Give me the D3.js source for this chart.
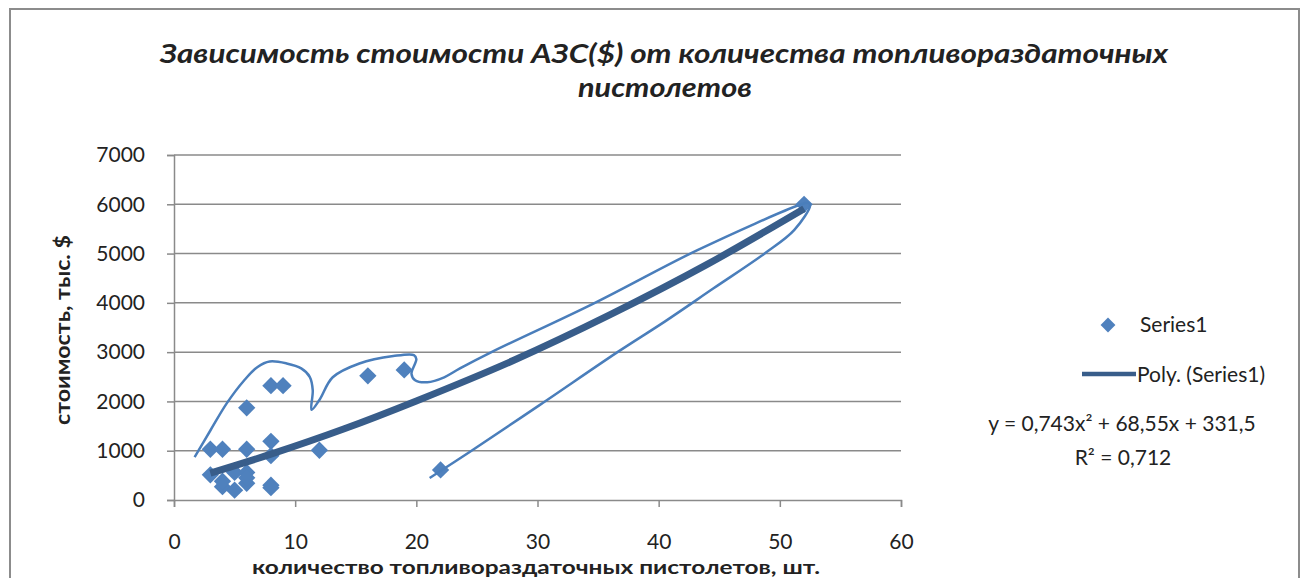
<!DOCTYPE html>
<html>
<head>
<meta charset="utf-8">
<script src="https://cdn.jsdelivr.net/npm/d3@7/dist/d3.min.js"></script>
<style>
  body { margin: 0; background: #fff; }
  text { font-family: Lato, "Liberation Sans", sans-serif; fill: #222; }
</style>
</head>
<body>
<div id="root"></div>
<script>
// chart data
let pistols = [3, 4, 6, 8, 8, 12, 3, 4, 4, 5, 5, 6, 6, 6, 8, 8, 6, 8, 9, 16, 19, 22, 52];
let cost = [1030, 1030, 1030, 1190, 900, 1010, 510, 270, 380, 200, 560, 560, 340, 450, 300, 250, 1870, 2320, 2320, 2520, 2640, 610, 6000];

// polynomial trend line
let trendX = [3, 8, 14, 20, 28, 36, 44, 52];
let trendY = [545, 930, 1440, 2010, 2830, 3760, 4780, 5910];

// hand drawn outline (data units)
let outlineX = [1.7, 3.0, 4.35, 5.8, 6.9, 7.9, 9.3, 10.5, 11.2, 11.45, 11.35, 12.0, 13.1, 15.3, 18.1, 19.8, 20.0, 19.6, 19.9, 20.9, 22.3, 23.6, 26.2, 34.7, 43.2, 51.6, 52.3, 52.5, 51.2, 48.8, 44.5, 40.5, 36.6, 30.2, 24.4, 21.1];
let outlineY = [870, 1410, 1960, 2430, 2700, 2810, 2770, 2670, 2500, 2230, 1830, 2030, 2490, 2770, 2920, 2940, 2860, 2560, 2430, 2390, 2490, 2670, 3000, 3995, 5070, 5985, 6030, 5985, 5480, 5010, 4290, 3620, 3000, 1930, 975, 445];

let xTicks = [0, 10, 20, 30, 40, 50, 60];
let yTicks = [0, 1000, 2000, 3000, 4000, 5000, 6000, 7000];

let titleLines = ["Зависимость стоимости АЗС($) от количества топливораздаточных", "пистолетов"];
let xTitle = "количество топливораздаточных  пистолетов, шт.";
let yTitle = "стоимость, тыс. $";
let seriesName = "Series1";
let trendName = "Poly. (Series1)";
let equation = ["y = 0,743x² + 68,55x + 331,5", "R² = 0,712"];

const W = 1308, H = 578;
const plot = { left: 174, right: 901, top: 155, bottom: 500 };

let svg = d3.select("#root").append("svg")
  .attr("width", W).attr("height", H);

svg.append("rect").attr("width", W).attr("height", H).attr("fill", "#fff");

// chart border
svg.append("rect")
  .attr("x", 10).attr("y", 9)
  .attr("width", 1289).attr("height", 620)
  .attr("fill", "none").attr("stroke", "#8c8c8c").attr("stroke-width", 2);

let x = d3.scaleLinear().domain([0, 60]).range([plot.left, plot.right]);
let y = d3.scaleLinear().domain([0, 7000]).range([plot.bottom, plot.top]);

// gridlines
svg.append("g").selectAll("line").data(yTicks.filter(d => d > 0)).join("line")
  .attr("x1", plot.left).attr("x2", plot.right)
  .attr("y1", d => y(d)).attr("y2", d => y(d))
  .attr("stroke", "#8a8a8a").attr("stroke-width", 1.5);

// y axis
let yAxis = svg.append("g")
  .attr("transform", "translate(" + plot.left + ",0)")
  .call(d3.axisLeft(y).tickValues(yTicks).tickFormat(d3.format("d")).tickSize(7).tickPadding(22));
// x axis
let xAxis = svg.append("g")
  .attr("transform", "translate(0," + plot.bottom + ")")
  .call(d3.axisBottom(x).tickValues(xTicks).tickFormat(d3.format("d")).tickSize(7).tickPadding(27));

[xAxis, yAxis].forEach(a => {
  a.selectAll("path, line").attr("stroke", "#8a8a8a").attr("stroke-width", 1.5);
  a.selectAll("text").attr("font-size", 21).attr("fill", "#222")
    .style("font-family", "Lato, 'Liberation Sans', sans-serif");
});

// points
let pts = pistols.map((d, i) => ({ x: d, y: cost[i] }));
let diamond = d3.symbol().type(d3.symbolSquare).size(150);
svg.append("g").selectAll("path").data(pts).join("path")
  .attr("d", diamond)
  .attr("transform", d => "translate(" + x(d.x) + "," + y(d.y) + ") rotate(45)")
  .attr("fill", "#4F81BD");

// trend line
let trend = trendX.map((d, i) => ({ x: d, y: trendY[i] }));
svg.append("path").datum(trend)
  .attr("d", d3.line().x(d => x(d.x)).y(d => y(d.y)).curve(d3.curveCatmullRom))
  .attr("fill", "none").attr("stroke", "#385D8A").attr("stroke-width", 7);

// freehand outline
let outline = outlineX.map((d, i) => ({ x: d, y: outlineY[i] }));
svg.append("path").datum(outline)
  .attr("d", d3.line().x(d => x(d.x)).y(d => y(d.y)).curve(d3.curveCatmullRom.alpha(0.5)))
  .attr("fill", "none").attr("stroke", "#4A7EBB").attr("stroke-width", 2.5);

// title
svg.append("text")
  .attr("x", 664).attr("y", 63).attr("text-anchor", "middle")
  .attr("font-size", 26).attr("font-weight", "bold").attr("font-style", "italic")
  .attr("textLength", 1008).attr("lengthAdjust", "spacingAndGlyphs")
  .text(titleLines[0]);
svg.append("text")
  .attr("x", 665).attr("y", 97).attr("text-anchor", "middle")
  .attr("font-size", 26).attr("font-weight", "bold").attr("font-style", "italic")
  .attr("textLength", 174).attr("lengthAdjust", "spacingAndGlyphs")
  .text(titleLines[1]);

// axis titles
svg.append("text")
  .attr("x", 536).attr("y", 574).attr("text-anchor", "middle")
  .attr("font-size", 19).attr("font-weight", "bold")
  .attr("textLength", 568).attr("lengthAdjust", "spacingAndGlyphs")
  .text(xTitle);
svg.append("text")
  .attr("transform", "translate(70,330) rotate(-90)")
  .attr("text-anchor", "middle")
  .attr("font-size", 21).attr("font-weight", "bold")
  .attr("textLength", 190).attr("lengthAdjust", "spacingAndGlyphs")
  .text(yTitle);

// legend
let legend = svg.append("g");
legend.append("path")
  .attr("d", d3.symbol().type(d3.symbolSquare).size(110))
  .attr("transform", "translate(1108,325) rotate(45)")
  .attr("fill", "#4F81BD");
legend.append("text").attr("x", 1140).attr("y", 325).attr("dy", "0.35em")
  .attr("font-size", 21).text(seriesName);
legend.append("line")
  .attr("x1", 1082).attr("x2", 1136).attr("y1", 374).attr("y2", 374)
  .attr("stroke", "#385D8A").attr("stroke-width", 4.5);
legend.append("text").attr("x", 1137).attr("y", 375).attr("dy", "0.35em")
  .attr("font-size", 21).text(trendName);

svg.append("text").attr("x", 1122).attr("y", 431).attr("text-anchor", "middle")
  .attr("font-size", 21).text(equation[0]);
svg.append("text").attr("x", 1123).attr("y", 465).attr("text-anchor", "middle")
  .attr("font-size", 21).text(equation[1]);
</script>
</body>
</html>
